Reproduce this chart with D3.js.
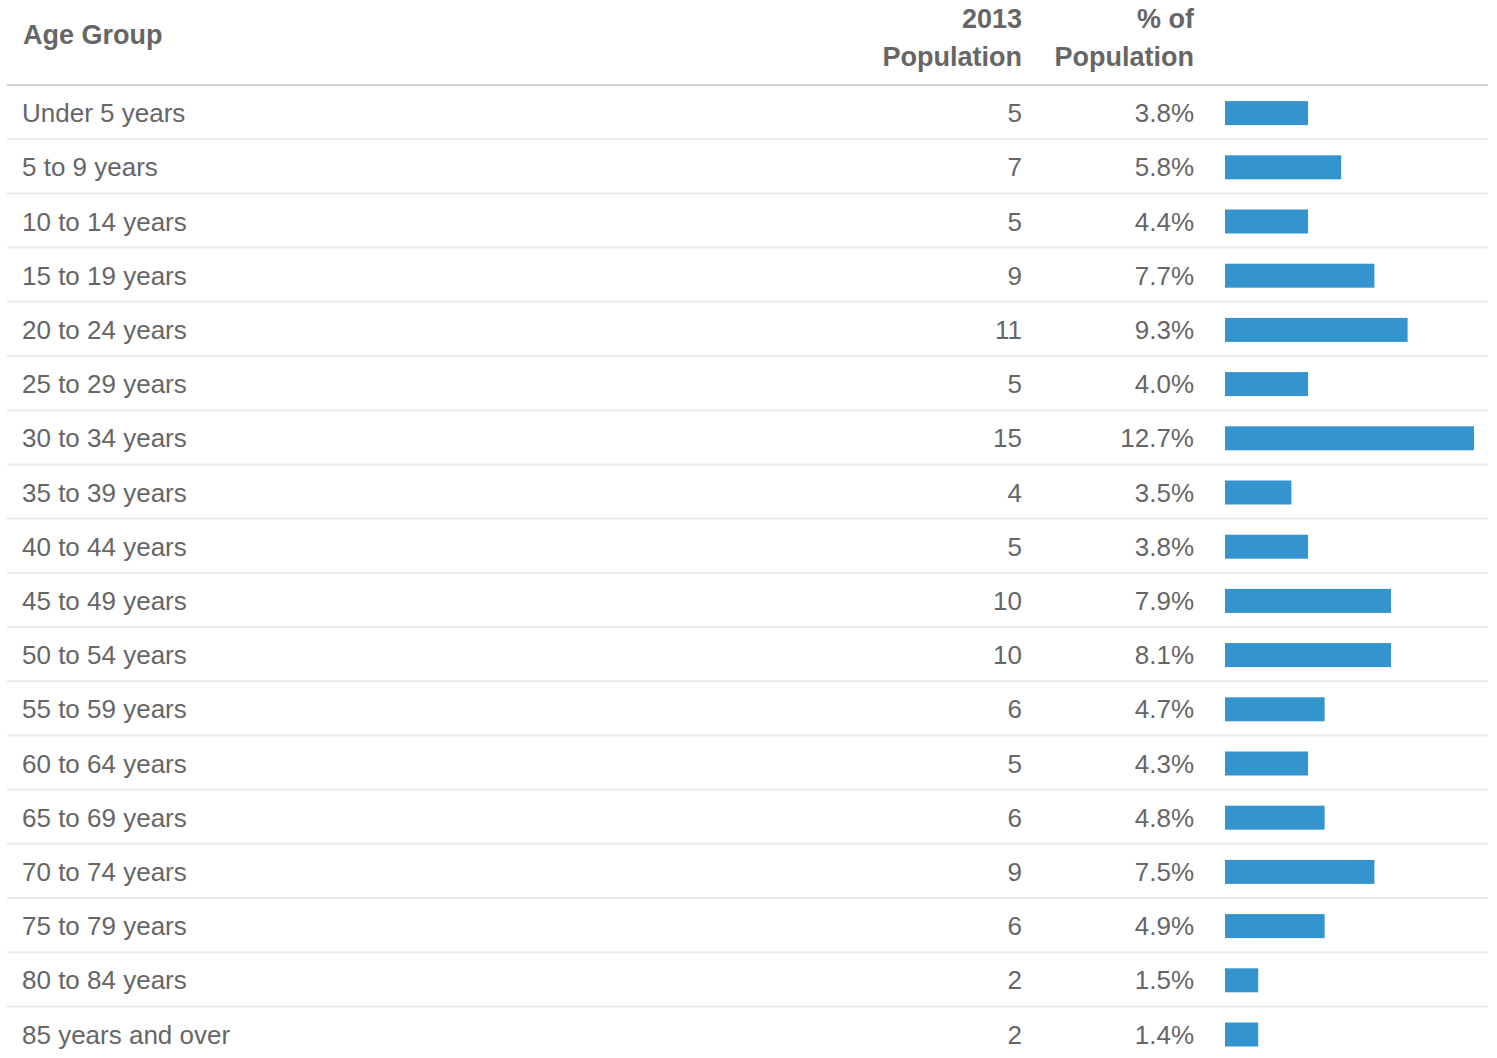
<!DOCTYPE html>
<html>
<head>
<meta charset="utf-8">
<script src="https://cdn.jsdelivr.net/npm/d3@7"></script>
<style>
  body { margin: 0; background: #fff; }
  text { font-family: "Liberation Sans", Arial, Helvetica, sans-serif; fill: #666; }
</style>
</head>
<body>
<div id="table"></div>
<script>
// data
var ageGroups = ["Under 5 years", "5 to 9 years", "10 to 14 years", "15 to 19 years",
  "20 to 24 years", "25 to 29 years", "30 to 34 years", "35 to 39 years",
  "40 to 44 years", "45 to 49 years", "50 to 54 years", "55 to 59 years",
  "60 to 64 years", "65 to 69 years", "70 to 74 years", "75 to 79 years",
  "80 to 84 years", "85 years and over"];
var population = [5, 7, 5, 9, 11, 5, 15, 4, 5, 10, 10, 6, 5, 6, 9, 6, 2, 2];
var percent = [3.8, 5.8, 4.4, 7.7, 9.3, 4.0, 12.7, 3.5, 3.8, 7.9, 8.1, 4.7, 4.3, 4.8, 7.5, 4.9, 1.5, 1.4];

var svgWidth = 1497;
var svgHeight = 1058;

var left = 7, right = 1488;
var headerLine = 85;
var rowH = 54.2;
var popX = 1022, pctX = 1194, barX = 1225, barMax = 249, barH = 24;

var rows = ageGroups.map(function(a, i) {
  return { age: a, pop: population[i], pct: percent[i] };
});

var svg = d3.select("#table")
  .append("svg")
  .attr("width", svgWidth)
  .attr("height", svgHeight);

// row scale
var y = d3.scaleBand()
  .domain(ageGroups)
  .range([headerLine, headerLine + rowH * ageGroups.length])
  .padding(0);

// bar scale (bars follow the population count)
var x = d3.scaleLinear()
  .domain([0, d3.max(population)])
  .range([0, barMax]);

// header
var head = svg.append("g").style("font-weight", "bold").style("font-size", "27px");
head.append("text").attr("x", 23).attr("y", 35).attr("dy", "0.35em").text("Age Group");
head.append("text").attr("x", popX).attr("y", 19).attr("dy", "0.35em").attr("text-anchor", "end").text("2013");
head.append("text").attr("x", popX).attr("y", 57).attr("dy", "0.35em").attr("text-anchor", "end").text("Population");
head.append("text").attr("x", pctX).attr("y", 19).attr("dy", "0.35em").attr("text-anchor", "end").text("% of");
head.append("text").attr("x", pctX).attr("y", 57).attr("dy", "0.35em").attr("text-anchor", "end").text("Population");

svg.append("line")
  .attr("x1", left).attr("x2", right)
  .attr("y1", headerLine).attr("y2", headerLine)
  .attr("stroke", "#d0d0d0")
  .attr("stroke-width", 2);

// rows
var row = svg.selectAll("g.row")
  .data(rows)
  .enter()
  .append("g")
  .attr("class", "row")
  .attr("transform", d => `translate(0, ${y(d.age)})`)
  .style("font-size", "26px");

row.append("line")
  .attr("x1", left).attr("x2", right)
  .attr("y1", rowH).attr("y2", rowH)
  .attr("stroke", "#ebebeb")
  .attr("stroke-width", 2);

row.append("text")
  .attr("x", 22)
  .attr("y", rowH / 2 + 1)
  .attr("dy", "0.35em")
  .text(d => d.age);

row.append("text")
  .attr("x", popX)
  .attr("y", rowH / 2 + 1)
  .attr("dy", "0.35em")
  .attr("text-anchor", "end")
  .text(d => d.pop);

row.append("text")
  .attr("x", pctX)
  .attr("y", rowH / 2 + 1)
  .attr("dy", "0.35em")
  .attr("text-anchor", "end")
  .text(d => d.pct.toFixed(1) + "%");

row.append("rect")
  .attr("x", barX)
  .attr("y", (rowH - barH) / 2 + 1)
  .attr("width", d => x(d.pop))
  .attr("height", barH)
  .attr("fill", "#3494cd");
</script>
</body>
</html>
